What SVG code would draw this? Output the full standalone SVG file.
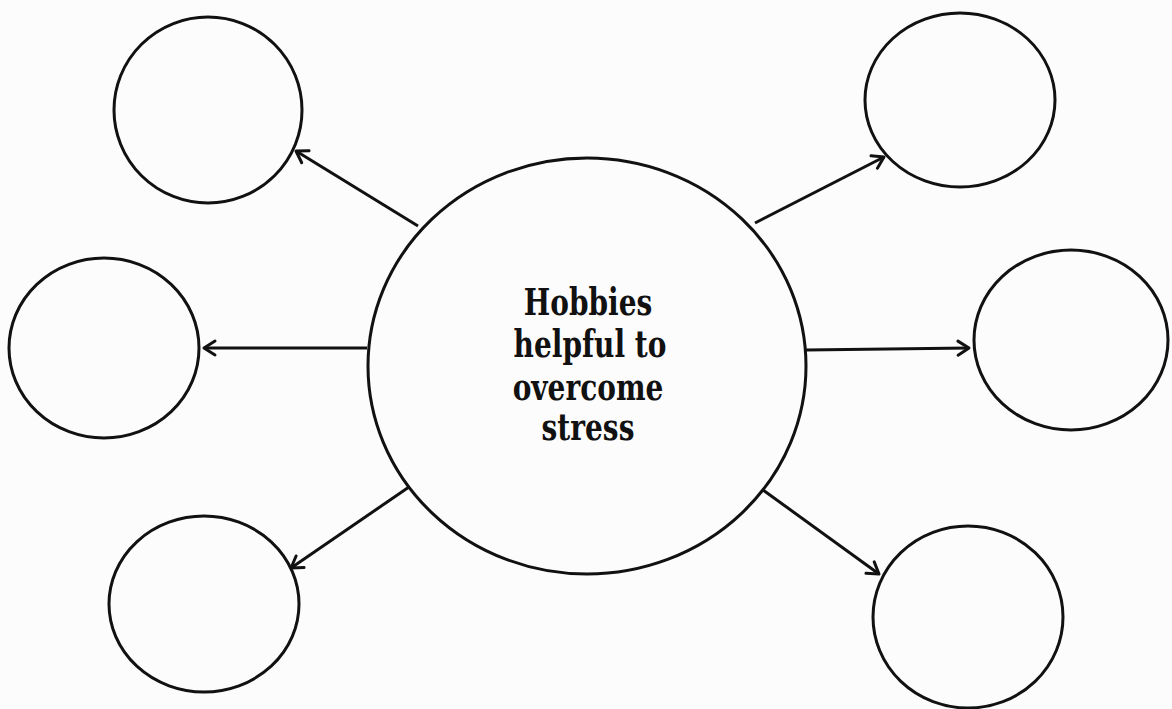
<svg xmlns="http://www.w3.org/2000/svg" width="1172" height="709" viewBox="0 0 1172 709">
<style>
.node{fill:none;stroke:#111;stroke-width:3}
.conn{stroke:#111;stroke-width:3;fill:none;marker-end:url(#arr)}
.lbl{font-family:"DejaVu Serif","Liberation Serif",serif;font-weight:bold;font-size:28px;fill:#111;text-anchor:middle}
</style>
<defs>
<marker id="arr" markerUnits="userSpaceOnUse" markerWidth="20" markerHeight="20" viewBox="0 0 20 20" refX="15" refY="10" orient="auto">
<path d="M4,3 L15,10 L4,17" fill="none" stroke="#111" stroke-width="3" stroke-linecap="round" stroke-linejoin="round"/>
</marker>
</defs>
<rect width="1172" height="709" fill="#fdfcfc"/>
<g id="connectors">
<line class="conn" x1="418" y1="226" x2="296" y2="151"/>
<line class="conn" x1="367" y1="348" x2="204" y2="348"/>
<line class="conn" x1="409" y1="487" x2="291" y2="568"/>
<line class="conn" x1="755" y1="223" x2="884" y2="157"/>
<line class="conn" x1="806" y1="350" x2="969" y2="348"/>
<line class="conn" x1="763" y1="490" x2="879" y2="574"/>
</g>
<g id="center">
<ellipse class="node" cx="587" cy="366" rx="219" ry="208"/>
<text class="lbl" transform="translate(588,315) scale(1,1.3)">Hobbies</text>
<text class="lbl" transform="translate(590,357) scale(1,1.3)">helpful to</text>
<text class="lbl" transform="translate(588,400) scale(1,1.3)">overcome</text>
<text class="lbl" transform="translate(588,440) scale(1,1.3)">stress</text>
</g>
<g id="top-left"><ellipse class="node" cx="208" cy="110" rx="94" ry="93"/></g>
<g id="mid-left"><ellipse class="node" cx="104" cy="348" rx="95" ry="90"/></g>
<g id="bottom-left"><ellipse class="node" cx="204" cy="604" rx="95" ry="88"/></g>
<g id="top-right"><ellipse class="node" cx="960" cy="100" rx="95" ry="87"/></g>
<g id="mid-right"><ellipse class="node" cx="1071" cy="340" rx="97" ry="90"/></g>
<g id="bottom-right"><ellipse class="node" cx="968" cy="617" rx="95" ry="91"/></g>
</svg>
